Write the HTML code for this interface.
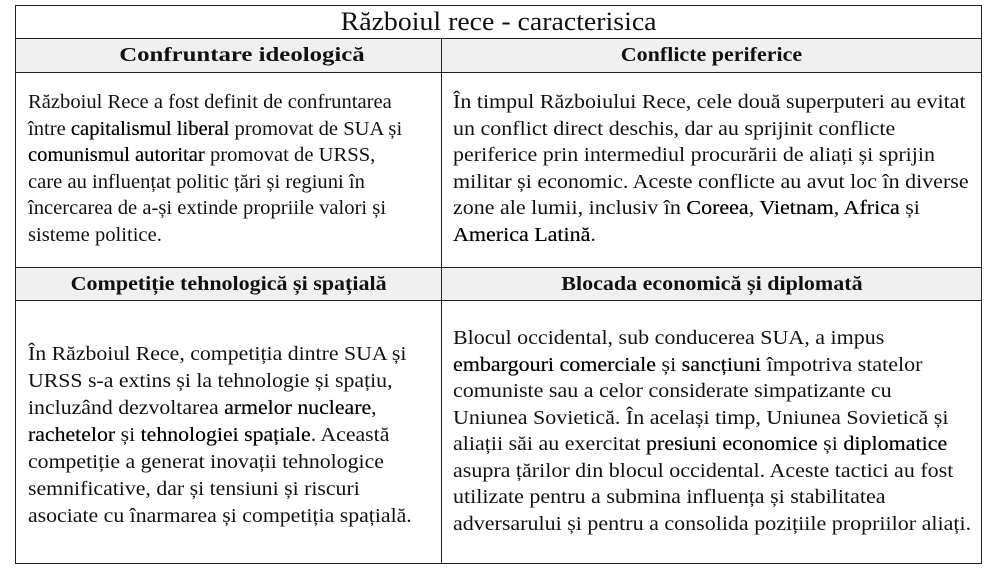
<!DOCTYPE html>
<html><head><meta charset="utf-8">
<style>
body{margin:0;width:998px;height:568px;background:#fff;font-family:"Liberation Serif",serif;color:#111;position:relative;overflow:hidden}
.box{position:absolute;box-sizing:border-box}
.line{position:absolute;background:#222}
.hdr{position:absolute;background:#f0f0f0;font-weight:bold;font-size:20px;text-align:center;line-height:33px;height:33px}
.hdr span{display:inline-block;transform:scaleX(1.1)}
.txt{position:absolute;font-size:20px;line-height:26.5px;white-space:nowrap;transform-origin:0 0}
b.k{font-weight:normal;color:#000;text-shadow:0 0 0.4px #000}
</style></head><body>
<div class="box" style="left:15px;top:5px;width:967px;height:559px;border:1px solid #222"></div>
<div class="hdr" style="left:16px;top:39px;width:425px"><span style="transform:translateX(13px) scaleX(1.24)">Confruntare ideologică</span></div>
<div class="hdr" style="left:442px;top:39px;width:539px"><span>Conflicte periferice</span></div>
<div class="hdr" style="left:16px;top:268px;width:425px"><span>Competiție tehnologică și spațială</span></div>
<div class="hdr" style="left:442px;top:268px;width:539px"><span>Blocada economică și diplomată</span></div>
<div class="line" style="left:15px;top:38px;width:967px;height:1px"></div>
<div class="line" style="left:15px;top:72px;width:967px;height:1px"></div>
<div class="line" style="left:15px;top:267px;width:967px;height:1px"></div>
<div class="line" style="left:15px;top:300px;width:967px;height:1px"></div>
<div class="line" style="left:441px;top:38px;width:1px;height:526px"></div>
<div style="position:absolute;left:15px;top:5px;width:967px;height:33px;line-height:33px;text-align:center;font-size:26px"><span style="display:inline-block;transform:scaleX(1.07)">Războiul rece - caracterisica</span></div>
<div class="txt" style="left:28px;top:89px;transform:scaleX(1.03)">Războiul Rece a fost definit de confruntarea<br>între <b class="k">capitalismul liberal</b> promovat de SUA și<br><b class="k">comunismul autoritar</b> promovat de URSS,<br>care au influențat politic țări și regiuni în<br>încercarea de a-și extinde propriile valori și<br>sisteme politice.</div>
<div class="txt" style="left:453px;top:89px;transform:scaleX(1.1)">În timpul Războiului Rece, cele două superputeri au evitat<br>un conflict direct deschis, dar au sprijinit conflicte<br>periferice prin intermediul procurării de aliați și sprijin<br>militar și economic. Aceste conflicte au avut loc în diverse<br>zone ale lumii, inclusiv în <b class="k">Coreea</b>, <b class="k">Vietnam</b>, <b class="k">Africa</b> și<br><b class="k">America Latină</b>.</div>
<div class="txt" style="left:28px;top:341px;line-height:27px;transform:scaleX(1.09)">În Războiul Rece, competiția dintre SUA și<br>URSS s-a extins și la tehnologie și spațiu,<br>incluzând dezvoltarea <b class="k">armelor nucleare</b>,<br><b class="k">rachetelor</b> și <b class="k">tehnologiei spațiale</b>. Această<br>competiție a generat inovații tehnologice<br>semnificative, dar și tensiuni și riscuri<br>asociate cu înarmarea și competiția spațială.</div>
<div class="txt" style="left:453px;top:325px;transform:scaleX(1.1)">Blocul occidental, sub conducerea SUA, a impus<br><b class="k">embargouri comerciale</b> și <b class="k">sancțiuni</b> împotriva statelor<br>comuniste sau a celor considerate simpatizante cu<br>Uniunea Sovietică. În același timp, Uniunea Sovietică și<br>aliații săi au exercitat <b class="k">presiuni economice</b> și <b class="k">diplomatice</b><br>asupra țărilor din blocul occidental. Aceste tactici au fost<br>utilizate pentru a submina influența și stabilitatea<br>adversarului și pentru a consolida pozițiile propriilor aliați.</div>
</body></html>
